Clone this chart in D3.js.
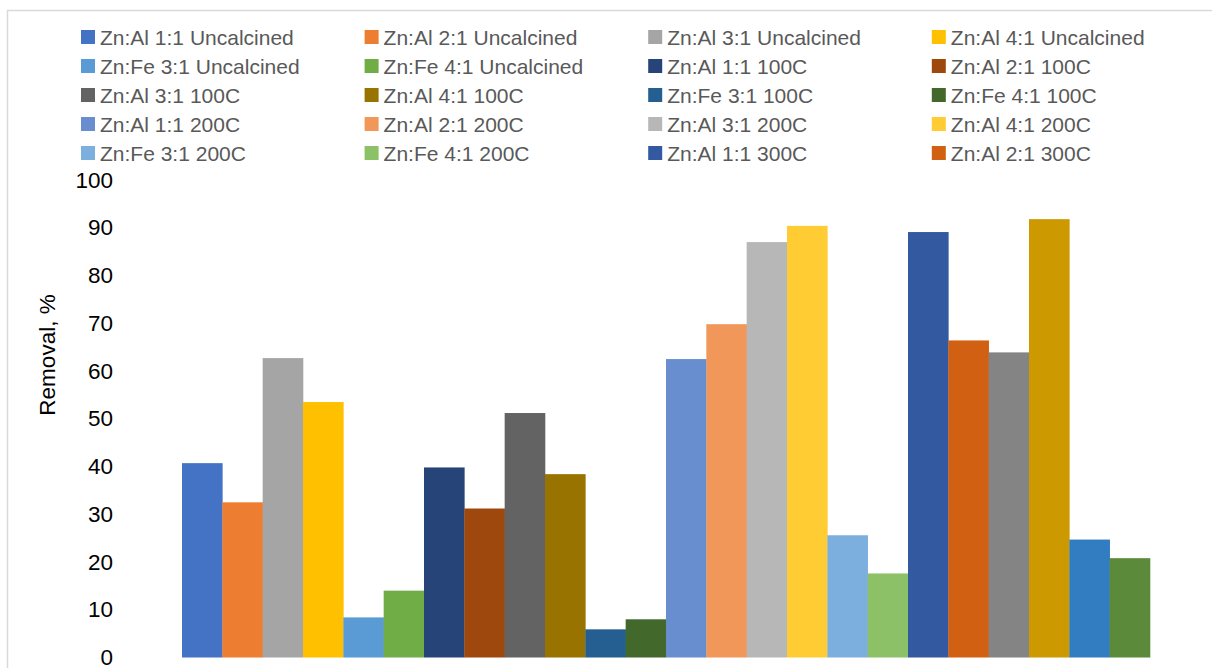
<!DOCTYPE html>
<html>
<head>
<meta charset="utf-8">
<script src="https://cdn.jsdelivr.net/npm/d3@7"></script>
<style>
  html, body { margin: 0; padding: 0; background: #fff; }
  svg { display: block; }
</style>
</head>
<body>
<svg id="chart" width="1212" height="668"></svg>
<script>
// Series, in plotting order (one bar each)
const seriesNames = [
  "Zn:Al 1:1 Uncalcined", "Zn:Al 2:1 Uncalcined", "Zn:Al 3:1 Uncalcined", "Zn:Al 4:1 Uncalcined",
  "Zn:Fe 3:1 Uncalcined", "Zn:Fe 4:1 Uncalcined",
  "Zn:Al 1:1 100C", "Zn:Al 2:1 100C", "Zn:Al 3:1 100C", "Zn:Al 4:1 100C",
  "Zn:Fe 3:1 100C", "Zn:Fe 4:1 100C",
  "Zn:Al 1:1 200C", "Zn:Al 2:1 200C", "Zn:Al 3:1 200C", "Zn:Al 4:1 200C",
  "Zn:Fe 3:1 200C", "Zn:Fe 4:1 200C",
  "Zn:Al 1:1 300C", "Zn:Al 2:1 300C", "Zn:Al 3:1 300C", "Zn:Al 4:1 300C",
  "Zn:Fe 3:1 300C", "Zn:Fe 4:1 300C"
];

// Removal, %
const removalValues = [
  40.7, 32.5, 62.7, 53.5, 8.4, 14.0,
  39.8, 31.2, 51.2, 38.4, 5.9, 8.0,
  62.5, 69.8, 87.0, 90.4, 25.6, 17.6,
  89.1, 66.4, 63.9, 91.8, 24.7, 20.8
];

const seriesColors = [
  "#4472C4", "#ED7D31", "#A5A5A5", "#FFC000", "#5B9BD5", "#70AD47",
  "#264478", "#9E480E", "#636363", "#997300", "#255E91", "#43682B",
  "#698ED0", "#F1975A", "#B7B7B7", "#FFCD33", "#7CAFDD", "#8CC168",
  "#335AA1", "#D26012", "#848484", "#CC9A00", "#327DC2", "#5B8A3A"
];

const yTicks = [0, 10, 20, 30, 40, 50, 60, 70, 80, 90, 100];
const yTitle = "Removal, %";
const legendRows = 5;   // legend box only has room for five rows
const legendCols = 4;

const svg = d3.select("#chart");
const W = 1212, H = 668;

// chart area frame (left and top edges are the visible ones)
svg.append("path")
  .attr("d", `M7.5,${H + 2} V10.5 H${W + 2}`)
  .attr("fill", "none")
  .attr("stroke", "#d9d9d9")
  .attr("stroke-width", 1.5);

// plot area
const plot = { left: 127, right: 1205, top: 180, bottom: 657.5 };
const gap = 55;

const x = d3.scaleBand()
  .domain(seriesNames)
  .range([plot.left + gap, plot.right - gap])
  .padding(0);

const y = d3.scaleLinear()
  .domain([0, 100])
  .range([plot.bottom, plot.top]);

// bars
svg.append("g")
  .selectAll("rect")
  .data(seriesNames)
  .join("rect")
  .attr("x", d => x(d))
  .attr("width", x.bandwidth() + 0.3)
  .attr("y", (d, i) => y(removalValues[i]))
  .attr("height", (d, i) => y(0) - y(removalValues[i]))
  .attr("fill", (d, i) => seriesColors[i]);

// y axis: labels only, no line or tick marks
const yAxis = d3.axisLeft(y)
  .tickValues(yTicks)
  .tickSize(0)
  .tickPadding(0)
  .tickFormat(d3.format("d"));

const gy = svg.append("g")
  .attr("transform", "translate(113,0)")
  .call(yAxis);
gy.select(".domain").remove();
gy.selectAll("text")
  .attr("font-family", "Liberation Sans, Arial, sans-serif")
  .attr("font-size", 22.5)
  .attr("fill", "#000");

// y axis title
svg.append("text")
  .attr("transform", "translate(47,355) rotate(-90)")
  .attr("text-anchor", "middle")
  .attr("dominant-baseline", "central")
  .attr("font-family", "Liberation Sans, Arial, sans-serif")
  .attr("font-size", 22.5)
  .attr("fill", "#000")
  .text(yTitle);

// legend, row-major
const legendX = d3.scaleLinear().domain([0, legendCols]).range([81, 81 + 283.6 * legendCols]);
const legendY = d3.scaleLinear().domain([0, legendRows - 1]).range([37, 153]);
const legendItems = seriesNames.slice(0, legendRows * legendCols);

const lg = svg.append("g")
  .selectAll("g")
  .data(legendItems)
  .join("g")
  .attr("transform", (d, i) => `translate(${legendX(i % legendCols)},${legendY(Math.floor(i / legendCols))})`);

lg.append("rect")
  .attr("x", 0)
  .attr("y", -7)
  .attr("width", 14)
  .attr("height", 14)
  .attr("fill", (d, i) => seriesColors[i]);

lg.append("text")
  .attr("x", 19)
  .attr("y", 0)
  .attr("dominant-baseline", "central")
  .attr("font-family", "Liberation Sans, Arial, sans-serif")
  .attr("font-size", 21)
  .attr("fill", "#595959")
  .text(d => d);
</script>
</body>
</html>
